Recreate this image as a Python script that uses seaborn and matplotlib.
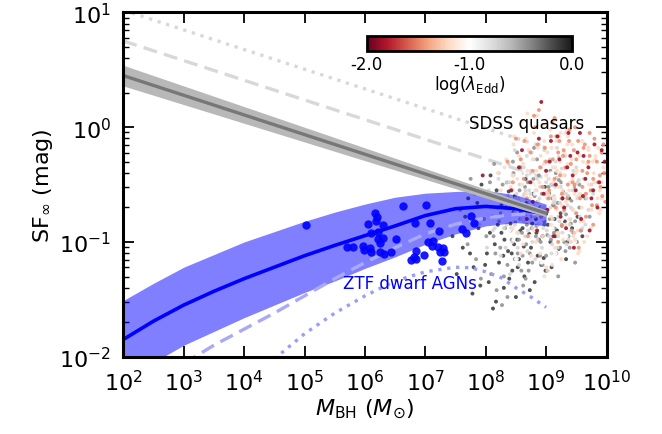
import numpy as np
import pandas as pd
import matplotlib
matplotlib.use("Agg")
import matplotlib.pyplot as plt
import seaborn as sns
from matplotlib.colors import Normalize
from matplotlib.cm import ScalarMappable

# ---------------- data (log10 units) ----------------
# SF_inf - M_BH relation for quasars (grey), with 2x and 4x offsets
gray_logm = [2.0, 9.0]
gray_sf = [0.45, -0.75]
gray_sf_hi = [0.54, -0.72]
gray_sf_lo = [0.36, -0.78]
gray_sf_x2 = [0.752, -0.448]
gray_sf_x4 = [1.02, -0.18]

# extrapolated relation for dwarf AGNs (blue)
blue_logm = [2.0, 2.5, 3.0, 3.5, 4.0, 4.5, 5.0, 5.5, 6.0, 6.5, 7.0, 7.5, 8.0, 8.5, 9.0]
blue_sf = [-1.85, -1.69, -1.55, -1.43, -1.32, -1.22, -1.12, -1.03, -0.945, -0.86, -0.77, -0.71, -0.69, -0.71, -0.757]
blue_sf_hi = [-1.51, -1.36, -1.22, -1.11, -1.00, -0.91, -0.82, -0.74, -0.67, -0.61, -0.575, -0.56, -0.55, -0.59, -0.67]
blue_sf_lo = [-2.21, -2.05, -1.90, -1.78, -1.66, -1.55, -1.44, -1.34, -1.23, -1.13, -1.02, -0.93, -0.86, -0.83, -0.86]

blue_dash_logm = [3.0, 3.5, 4.0, 4.5, 5.0, 5.5, 6.0, 6.5, 7.0, 7.5, 8.0, 8.5, 9.0]
blue_dash_sf = [-2.06, -1.90, -1.76, -1.62, -1.47, -1.32, -1.18, -1.05, -0.93, -0.845, -0.79, -0.76, -0.75]

blue_dot_logm = [4.5, 5.0, 5.5, 6.0, 6.5, 7.0, 7.5, 7.75, 8.0, 8.25, 8.5, 8.75, 9.0]
blue_dot_sf = [-2.02, -1.80, -1.62, -1.47, -1.34, -1.26, -1.22, -1.225, -1.26, -1.31, -1.40, -1.48, -1.57]

# ZTF dwarf AGNs
ztf_logm = [5.02, 6.63, 7.01, 6.17, 6.20, 6.18, 6.05, 6.30, 6.83, 7.08, 7.76, 7.80,
            7.23, 6.10, 6.21, 6.30, 6.21, 6.51, 7.60, 7.67, 7.04, 7.12, 5.70, 5.81,
            5.96, 5.99, 6.09, 6.10, 6.25, 6.25, 6.31, 6.43, 7.21, 7.29, 7.31, 7.24,
            6.85, 6.81, 6.98, 6.76, 6.85, 7.27, 7.11]
ztf_sf = [-0.855, -0.684, -0.676, -0.751, -0.786, -0.820, -0.844, -0.853, -0.833, -0.835, -0.777, -0.833,
          -0.908, -0.922, -0.916, -0.969, -0.975, -0.975, -0.888, -0.925, -0.998, -0.995, -1.047, -1.047,
          -1.038, -1.071, -1.056, -1.091, -1.085, -1.012, -1.105, -1.091, -1.047, -1.056, -1.085, -1.091,
          -1.082, -1.129, -1.114, -1.155, -1.149, -1.164, -1.033]

# SDSS quasars, grouped by log Eddington ratio
qso_lam_levels = [-0.15, -0.45, -0.75, -1.0, -1.2, -1.45, -1.85]

qso_m_k = [7.45, 7.62, 7.71, 7.80, 7.88, 7.93, 8.02, 8.05, 8.11, 8.15, 8.18, 8.22, 8.26, 8.30, 8.33,
           8.37, 8.41, 8.44, 8.48, 8.52, 8.55, 8.58, 8.61, 8.64, 8.68, 8.72, 8.75, 8.79, 8.83, 8.86,
           8.90, 8.94, 8.98, 9.03, 9.07, 9.12, 9.18, 9.24, 9.31, 9.38, 8.08, 8.35, 8.50, 8.66, 8.92,
           7.52, 7.66, 7.78, 7.86, 7.99, 8.07, 8.17, 8.24, 8.29, 8.39, 8.46, 8.53, 8.57, 8.63, 8.70,
           8.77, 8.81, 8.88, 8.96, 9.01, 9.09, 9.15, 9.21, 9.27, 9.35, 9.43, 9.52, 8.12, 8.20, 8.31,
           8.43, 8.56, 8.69, 8.84, 8.99, 9.14, 7.74, 7.91, 8.26, 8.47, 8.73, 9.05, 9.33, 9.60, 8.38]
qso_sf_k = [-0.95, -1.05, -0.62, -1.22, -0.88, -0.50, -1.10, -1.35, -0.78, -1.02, -0.55, -1.18, -0.92, -1.40, -0.70,
            -1.08, -0.84, -1.25, -0.60, -0.98, -1.15, -0.74, -0.88, -1.30, -0.66, -0.93, -1.05, -0.58, -0.80, -1.12,
            -0.70, -0.95, -0.52, -0.85, -1.00, -0.68, -0.90, -0.75, -0.82, -0.62, -0.42, -0.48, -1.48, -0.45, -1.20,
            -1.28, -0.78, -1.45, -0.66, -1.20, -0.92, -1.52, -0.62, -1.12, -1.32, -0.74, -1.22, -0.90, -1.04, -1.18,
            -0.84, -1.35, -0.98, -1.14, -0.74, -1.22, -0.95, -1.06, -0.62, -1.00, -0.88, -0.78, -1.58, -0.85, -0.98,
            -1.10, -0.66, -0.78, -0.92, -1.25, -0.80, -1.10, -1.38, -0.68, -1.02, -1.42, -0.58, -1.15, -0.95, -0.56]

qso_m_dg = [7.58, 7.75, 7.84, 7.97, 8.04, 8.09, 8.13, 8.20, 8.24, 8.28, 8.32, 8.36, 8.39, 8.43, 8.46,
            8.49, 8.53, 8.56, 8.60, 8.63, 8.67, 8.70, 8.74, 8.77, 8.81, 8.84, 8.88, 8.91, 8.95, 8.99,
            9.02, 9.06, 9.10, 9.14, 9.19, 9.23, 9.28, 9.33, 9.37, 9.42, 9.48, 9.55, 8.27, 8.45, 8.58,
            8.71, 8.85, 9.00, 9.16, 9.30, 8.14, 8.62, 8.97, 9.25, 9.45,
            7.70, 7.82, 7.92, 8.01, 8.07, 8.16, 8.22, 8.30, 8.34, 8.41, 8.48, 8.51, 8.55, 8.59, 8.65,
            8.68, 8.73, 8.79, 8.83, 8.87, 8.90, 8.93, 8.97, 9.01, 9.04, 9.08, 9.12, 9.17, 9.21, 9.26,
            9.32, 9.36, 9.41, 9.46, 9.51, 9.58, 9.65, 9.72, 8.18, 8.36, 8.52, 8.66, 8.80, 8.94, 9.07,
            9.20, 9.39, 9.55, 8.44, 8.61, 8.76, 8.92, 9.10, 9.29, 9.48, 7.98, 8.25, 8.57, 8.86, 9.13]
qso_sf_dg = [-0.72, -0.45, -1.15, -0.80, -0.60, -1.28, -0.95, -0.70, -1.05, -0.50, -0.88, -1.20, -0.62, -0.98, -0.40,
             -0.83, -1.10, -0.55, -0.92, -0.68, -1.02, -0.48, -0.78, -1.18, -0.60, -0.86, -0.42, -1.00, -0.72, -0.58,
             -0.94, -0.80, -0.50, -0.88, -0.66, -1.05, -0.56, -0.76, -0.95, -0.64, -0.82, -0.70, -1.55, -0.30, -0.35,
             -1.25, -0.28, -1.12, -0.40, -1.00, -0.32, -1.38, -0.85, -0.48, -0.92,
             -1.02, -0.58, -1.32, -0.95, -0.48, -1.10, -0.82, -1.30, -0.62, -0.90, -1.15, -0.68, -0.98, -1.25, -0.52,
             -0.85, -1.10, -0.45, -0.95, -0.70, -1.12, -0.58, -0.82, -1.25, -0.52, -0.98, -0.68, -1.10, -0.46, -0.86,
             -1.08, -0.60, -0.84, -0.52, -1.00, -0.90, -0.62, -0.78, -1.42, -1.48, -0.22, -1.32, -0.18, -1.20, -0.38,
             -1.30, -1.05, -0.50, -0.55, -1.12, -0.88, -0.78, -0.62, -0.70, -1.18, -0.58, -0.75, -0.80, -0.65, -0.92]

qso_m_lg = [8.05, 8.12, 8.19, 8.25, 8.31, 8.35, 8.40, 8.44, 8.47, 8.51, 8.54, 8.57, 8.60, 8.63, 8.66,
            8.69, 8.72, 8.75, 8.78, 8.80, 8.83, 8.86, 8.89, 8.92, 8.95, 8.98, 9.01, 9.04, 9.07, 9.10,
            9.13, 9.16, 9.20, 9.24, 9.27, 9.31, 9.35, 9.39, 9.44, 9.49, 9.54, 9.60, 9.67, 9.75, 8.38,
            8.55, 8.68, 8.82, 8.97, 9.09, 9.21, 9.34, 9.50, 8.48, 8.74, 8.88, 9.03, 9.18, 9.41, 7.90,
            8.22, 8.64, 8.93, 9.12, 9.29,
            8.02, 8.09, 8.15, 8.21, 8.27, 8.33, 8.37, 8.42, 8.46, 8.50, 8.53, 8.56, 8.59, 8.62, 8.65,
            8.68, 8.71, 8.74, 8.77, 8.79, 8.82, 8.85, 8.87, 8.90, 8.93, 8.96, 8.99, 9.02, 9.05, 9.08,
            9.11, 9.14, 9.17, 9.20, 9.23, 9.26, 9.29, 9.33, 9.37, 9.41, 9.45, 9.50, 9.56, 9.62, 9.70,
            9.78, 8.30, 8.44, 8.58, 8.70, 8.84, 8.98, 9.12, 9.25, 9.40, 9.58, 8.24, 8.40, 8.52, 8.63,
            8.76, 8.91, 9.06, 9.19, 9.32, 9.47, 9.65, 8.35, 8.55, 8.80, 9.00, 9.22, 9.44, 8.12, 8.48,
            8.72, 8.95, 9.15, 9.36, 9.52]
qso_sf_lg = [-0.55, -0.90, -0.70, -1.12, -0.62, -0.85, -0.48, -1.00, -0.75, -0.58, -0.92, -0.68, -0.40, -0.82, -0.55,
             -1.08, -0.65, -0.38, -0.88, -0.72, -0.50, -0.98, -0.62, -0.35, -0.80, -0.56, -0.90, -0.45, -0.70, -1.02,
             -0.60, -0.30, -0.78, -0.52, -0.92, -0.42, -0.68, -0.85, -0.55, -0.75, -0.46, -0.88, -0.62, -0.50, -0.32,
             -1.20, -0.25, -1.15, -0.20, -1.10, -0.26, -1.02, -0.35, -0.20, -0.95, -0.15, -1.25, -0.18, -1.00, -0.85,
             -0.40, -0.58, -0.72, -0.66, -0.58,
             -1.05, -0.62, -0.88, -0.45, -0.78, -1.05, -0.60, -0.88, -0.42, -0.72, -1.05, -0.50, -0.80, -0.60, -0.95,
             -0.42, -0.78, -0.58, -1.00, -0.28, -0.68, -0.45, -0.85, -0.52, -1.05, -0.70, -0.38, -0.62, -0.95, -0.50,
             -0.80, -0.64, -0.44, -0.95, -0.66, -0.36, -0.74, -0.58, -0.98, -0.70, -0.38, -0.62, -0.78, -0.45, -0.72,
             -0.58, -0.88, -0.55, -0.28, -0.90, -0.55, -0.30, -0.88, -0.62, -0.80, -0.60, -0.65, -1.28, -1.15, -0.35,
             -0.22, -1.18, -0.28, -1.05, -0.25, -0.92, -0.85, -0.48, -0.62, -0.78, -0.48, -0.82, -0.72, -0.78, -0.85,
             -0.55, -0.88, -0.52, -0.60, -0.48]

qso_m_w = [8.30, 8.42, 8.53, 8.61, 8.70, 8.78, 8.85, 8.91, 8.96, 9.02, 9.08, 9.15, 9.22, 9.30, 9.38,
           9.46, 9.58, 8.65, 8.88, 9.05, 9.26, 9.52, 8.76, 9.11, 9.35,
           8.34, 8.46, 8.57, 8.66, 8.74, 8.81, 8.89, 8.95, 9.00, 9.06, 9.13, 9.19, 9.27, 9.34, 9.42,
           9.50, 9.62, 9.74, 8.50, 8.72, 8.93, 9.10, 9.30, 9.48, 8.60, 8.84, 9.16, 9.40, 9.66, 8.40]
qso_sf_w = [-0.75, -0.60, -0.88, -0.50, -0.78, -0.42, -0.68, -0.90, -0.55, -0.72, -0.40, -0.85, -0.60, -0.48, -0.78,
            -0.62, -0.55, -0.30, -0.25, -1.05, -0.95, -0.38, -1.12, -0.22, -0.20,
            -0.45, -0.98, -0.40, -0.68, -0.95, -0.58, -0.32, -0.80, -0.98, -0.45, -0.62, -0.38, -0.80, -0.95, -0.52,
            -0.85, -0.70, -0.45, -1.15, -0.20, -1.18, -0.88, -0.68, -1.00, -0.62, -0.50, -1.10, -0.32, -0.88, -0.90]

qso_m_s = [8.20, 8.28, 8.34, 8.41, 8.46, 8.52, 8.57, 8.62, 8.67, 8.71, 8.76, 8.80, 8.84, 8.87, 8.91,
           8.94, 8.97, 9.00, 9.03, 9.06, 9.09, 9.12, 9.15, 9.18, 9.21, 9.24, 9.27, 9.30, 9.33, 9.36,
           9.40, 9.43, 9.47, 9.51, 9.55, 9.59, 9.63, 9.68, 9.73, 9.79, 9.85, 9.92, 8.59, 8.73, 8.95,
           9.08, 9.19, 9.32, 9.45, 9.62, 9.81, 8.45, 8.83, 9.01, 9.14, 9.38, 9.56, 9.70, 9.88, 8.69,
           9.25, 9.53,
           8.25, 8.31, 8.38, 8.44, 8.49, 8.55, 8.60, 8.64, 8.69, 8.73, 8.78, 8.82, 8.86, 8.89, 8.93,
           8.96, 8.99, 9.02, 9.05, 9.08, 9.11, 9.14, 9.17, 9.20, 9.23, 9.26, 9.29, 9.32, 9.35, 9.38,
           9.42, 9.45, 9.49, 9.53, 9.57, 9.61, 9.65, 9.70, 9.75, 9.82, 9.89, 9.95, 8.52, 8.66, 8.80,
           8.94, 9.07, 9.21, 9.34, 9.48, 9.60, 9.74, 9.86, 8.62, 8.90, 9.15, 9.41, 9.68, 9.92, 8.75,
           9.00, 9.28, 9.55, 9.80, 8.47, 8.85, 9.10, 9.36, 9.63, 9.90, 8.58, 8.97, 9.24, 9.52, 9.77,
           9.18, 9.44, 9.71, 9.04, 9.31]
qso_sf_s = [-0.40, -0.62, -0.28, -0.52, -0.15, -0.45, -0.70, -0.32, -0.58, -0.20, -0.48, -0.05, -0.38, -0.65, -0.25,
            -0.52, -0.12, -0.42, -0.30, -0.60, -0.18, -0.48, -0.35, -0.72, -0.08, -0.40, -0.55, -0.22, -0.65, -0.32,
            -0.48, -0.15, -0.58, -0.38, -0.25, -0.70, -0.45, -0.32, -0.55, -0.40, -0.62, -0.48, 0.05, -0.80, 0.02,
            -0.85, -0.92, -0.05, -0.95, -0.82, -0.28, -0.88, -1.00, -0.72, -1.05, -0.80, -0.58, -0.20, -0.75, 0.12,
            -1.15, -1.10,
            -0.55, -0.35, -0.72, -0.42, -0.62, -0.25, -0.50, -0.78, -0.38, -0.62, -0.28, -0.55, -0.18, -0.48, -0.70,
            -0.32, -0.58, -0.22, -0.45, -0.78, -0.35, -0.62, -0.12, -0.52, -0.30, -0.68, -0.42, -0.85, -0.15, -0.55,
            -0.28, -0.72, -0.40, -0.60, -0.82, -0.30, -0.58, -0.18, -0.72, -0.25, -0.55, -0.35, -0.92, -0.10, -0.90,
            -0.95, -0.02, -0.92, -0.02, -0.98, -0.12, -0.88, -0.18, -1.02, -1.10, 0.06, -1.00, -0.95, -0.62, -1.12,
            -1.22, -0.98, -1.08, -0.48, -0.08, 0.10, -1.20, -0.08, -1.00, -0.72, -1.10, -1.30, -0.05, -0.90, -0.30,
            -0.38, -0.45, -0.50, -0.58, -0.36]

qso_m_o = [8.36, 8.50, 8.63, 8.74, 8.82, 8.90, 8.98, 9.05, 9.11, 9.17, 9.23, 9.29, 9.35, 9.41, 9.47,
           9.53, 9.60, 9.66, 9.72, 9.78, 9.84, 9.90, 9.96, 8.88, 9.02, 9.14, 9.26, 9.39, 9.50, 9.64,
           9.76, 9.93, 8.70, 9.20, 9.57,
           8.45, 8.58, 8.68, 8.78, 8.86, 8.94, 9.00, 9.08, 9.14, 9.20, 9.26, 9.32, 9.38, 9.44, 9.50,
           9.56, 9.62, 9.68, 9.74, 9.80, 9.86, 9.92, 9.98, 8.92, 9.10, 9.30, 9.48, 9.66, 9.84, 8.80,
           9.04, 9.22, 9.42, 9.60, 9.78, 9.95, 9.16, 9.36, 9.54, 9.72, 9.89, 8.64, 9.28, 9.70, 9.46]
qso_sf_o = [-0.30, -0.10, -0.45, -0.22, 0.00, -0.35, -0.18, -0.55, -0.28, -0.08, -0.42, -0.20, -0.62, -0.32, -0.50,
            -0.12, -0.38, -0.58, -0.25, -0.45, -0.30, -0.52, -0.40, 0.15, -0.72, 0.08, -0.85, -0.02, -0.75, -0.15,
            -0.68, -0.60, -0.95, -1.00, -0.90,
            -0.48, -0.28, -0.62, -0.38, -0.15, -0.52, -0.30, -0.08, -0.45, -0.22, -0.58, -0.35, -0.12, -0.48, -0.28,
            -0.62, -0.18, -0.40, -0.55, -0.10, -0.48, -0.22, -0.65, -0.78, 0.04, -0.72, 0.00, -0.78, -0.68, 0.10,
            -0.62, -0.12, -0.90, -0.52, -0.85, -0.15, -0.70, -0.50, -1.05, -0.05, -0.42, -0.12, -0.25, -0.30, -0.20]

qso_m_r = [7.95, 8.42, 8.60, 8.78, 8.92, 9.00, 9.08, 9.16, 9.22, 9.30, 9.37, 9.44, 9.52, 9.61, 9.70,
           9.80, 9.88, 9.97, 8.85, 9.12, 9.33, 9.58, 9.75, 8.68, 9.46,
           8.55, 8.74, 8.96, 9.06, 9.19, 9.27, 9.40, 9.49, 9.56, 9.65, 9.78, 9.92, 8.88, 9.24, 9.62,
           9.85, 9.02, 9.35, 9.72, 8.50]
qso_sf_r = [-0.42, -0.55, -0.20, -0.65, 0.22, -0.38, -0.12, -0.50, -0.28, -0.70, -0.05, -0.42, -0.22, -0.60, -0.35,
            -0.15, -0.48, -0.30, -0.90, -0.95, -0.88, -0.80, -0.62, -0.80, -1.05,
            -0.35, -0.48, -0.58, -0.30, -0.08, -0.62, -0.25, -0.55, -0.05, -0.45, -0.55, -0.20, -0.10, -0.78, -0.25,
            -0.70, -0.72, -0.35, -0.90, -0.65]

x_ticks = [2, 3, 4, 5, 6, 7, 8, 9, 10]
y_ticks = [-2, -1, 0, 1]
cbar_ticks = [-2.0, -1.0, 0.0]

# ---------------- tables ----------------
groups = [(qso_m_k, qso_sf_k), (qso_m_dg, qso_sf_dg), (qso_m_lg, qso_sf_lg), (qso_m_w, qso_sf_w),
          (qso_m_s, qso_sf_s), (qso_m_o, qso_sf_o), (qso_m_r, qso_sf_r)]
rows = []
for lam, (ms, sfs) in zip(qso_lam_levels, groups):
    for m, s in zip(ms, sfs):
        rows.append((10 ** m, 10 ** s, lam))
qso = pd.DataFrame(rows, columns=["mbh", "sf", "lam"])

ztf = pd.DataFrame({"mbh": 10 ** np.array(ztf_logm), "sf": 10 ** np.array(ztf_sf)})
gray = pd.DataFrame({"mbh": 10 ** np.array(gray_logm), "sf": 10 ** np.array(gray_sf),
                     "hi": 10 ** np.array(gray_sf_hi), "lo": 10 ** np.array(gray_sf_lo),
                     "x2": 10 ** np.array(gray_sf_x2), "x4": 10 ** np.array(gray_sf_x4)})
blue = pd.DataFrame({"mbh": 10 ** np.array(blue_logm), "sf": 10 ** np.array(blue_sf),
                     "hi": 10 ** np.array(blue_sf_hi), "lo": 10 ** np.array(blue_sf_lo)})
blue_dash = pd.DataFrame({"mbh": 10 ** np.array(blue_dash_logm), "sf": 10 ** np.array(blue_dash_sf)})
blue_dot = pd.DataFrame({"mbh": 10 ** np.array(blue_dot_logm), "sf": 10 ** np.array(blue_dot_sf)})

# ---------------- style ----------------
sns.set_style("ticks")
plt.rcParams["font.family"] = ["DejaVu Sans"]
plt.rcParams["axes.unicode_minus"] = False
plt.rcParams["mathtext.fontset"] = "dejavusans"
for key in ["text.color", "axes.labelcolor", "xtick.color", "ytick.color", "axes.edgecolor"]:
    plt.rcParams[key] = "black"

fig = plt.figure(figsize=(6.62, 4.35), dpi=100)
ax = fig.add_axes([0.1863, 0.1777, 0.7299, 0.7913])
ax.set_xscale("log")
ax.set_yscale("log")

# grey quasar relation offsets
sns.lineplot(data=gray, x="mbh", y="x4", ax=ax, color="#d8d8d8", lw=2.4, ls=(0, (1, 1.7)),
             estimator=None, sort=False, zorder=1)
sns.lineplot(data=gray, x="mbh", y="x2", ax=ax, color="#d8d8d8", lw=2.4, ls=(0, (4.2, 2.2)),
             estimator=None, sort=False, zorder=1)

# SDSS quasars
cmap = plt.get_cmap("RdGy")
sns.scatterplot(data=qso, x="mbh", y="sf", hue="lam", palette=cmap, hue_norm=(-2, 0),
                s=8, linewidth=0, alpha=0.9, legend=False, ax=ax, zorder=2)

# dwarf AGN relation
ax.fill_between(blue["mbh"], blue["lo"], blue["hi"], color="blue", alpha=0.5, lw=0, zorder=4)
sns.lineplot(data=blue_dash, x="mbh", y="sf", ax=ax, color="#a9a9f7", lw=2.4, ls=(0, (4.2, 2.2)),
             estimator=None, sort=False, zorder=5)
sns.lineplot(data=blue_dot, x="mbh", y="sf", ax=ax, color="#9c9cfb", lw=2.4, ls=(0, (1, 1.7)),
             estimator=None, sort=False, zorder=5)
sns.lineplot(data=blue, x="mbh", y="sf", ax=ax, color="blue", lw=2.6,
             estimator=None, sort=False, zorder=6)

# grey quasar relation with its uncertainty
ax.fill_between(gray["mbh"], gray["lo"], gray["hi"], color="#b8b8b8", lw=0, zorder=7)
sns.lineplot(data=gray, x="mbh", y="sf", ax=ax, color="#777777", lw=2.4,
             estimator=None, sort=False, zorder=7)

# ZTF dwarf AGNs
sns.scatterplot(data=ztf, x="mbh", y="sf", color="blue", s=36, linewidth=0, alpha=0.9,
                ax=ax, zorder=8, legend=False)

ax.text(10 ** 8.68, 10 ** 0.04, "SDSS quasars", ha="center", va="center", fontsize=12, zorder=9)
ax.text(10 ** 6.75, 10 ** -1.354, "ZTF dwarf AGNs", ha="center", va="center", fontsize=12,
        color="blue", zorder=9)

# axes
ax.set_xlim(10 ** x_ticks[0], 10 ** x_ticks[-1])
ax.set_ylim(10 ** y_ticks[0], 10 ** y_ticks[-1])
ax.set_xticks([10.0 ** t for t in x_ticks])
ax.set_yticks([10.0 ** t for t in y_ticks])
ax.set_xlabel(r"$M_{\rm BH}$ ($M_{\odot}$)", fontsize=16, labelpad=2)
ax.set_ylabel(r"SF$_{\infty}$ (mag)", fontsize=16, labelpad=3)
ax.tick_params(which="both", direction="in", top=True, right=True, labelsize=16)
ax.tick_params(which="major", length=8, width=1.3, pad=9)
ax.tick_params(which="minor", length=4, width=1.0)
for sp in ax.spines.values():
    sp.set_linewidth(2.2)
    sp.set_zorder(10)

# colour bar for the Eddington ratio
cax = fig.add_axes([0.554, 0.881, 0.310, 0.035])
sm = ScalarMappable(norm=Normalize(-2, 0), cmap=cmap)
cb = fig.colorbar(sm, cax=cax, orientation="horizontal", ticks=cbar_ticks)
cb.ax.set_xticklabels([f"{t:.1f}" for t in cbar_ticks])
cb.outline.set_linewidth(2.0)
cb.ax.tick_params(direction="in", length=5, width=1.0, labelsize=12, pad=3, color="black")
cb.set_label(r"log($\lambda_{\rm Edd}$)", fontsize=12, labelpad=0)

fig.savefig("out.png", dpi=100)
